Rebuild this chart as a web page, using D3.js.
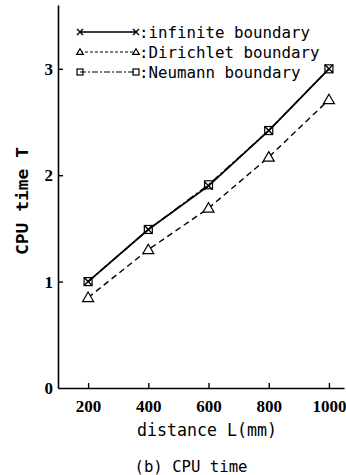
<!DOCTYPE html>
<html>
<head>
<meta charset="utf-8">
<script src="https://cdn.jsdelivr.net/npm/d3@7"></script>
<style>
  body { margin: 0; background: #fff; }
  svg { display: block; }
</style>
</head>
<body>
<div id="chart"></div>
<script>
// data
const distances = [200, 400, 600, 800, 1000];
const infiniteTimes = [1.00, 1.49, 1.90, 2.42, 3.00];
const dirichletTimes = [0.85, 1.30, 1.69, 2.17, 2.71];
const neumannTimes = [1.00, 1.49, 1.91, 2.42, 3.00];
const xTicks = [200, 400, 600, 800, 1000];
const yTicks = [0, 1, 2, 3];

const width = 346, height = 475;
const margin = { top: 5, right: 2, bottom: 87, left: 58 };

const svg = d3.select('#chart').append('svg')
  .attr('width', width)
  .attr('height', height);

const x = d3.scaleLinear().domain([100, 1050]).range([margin.left, width - margin.right]);
const y = d3.scaleLinear().domain([0, 3.6]).range([height - margin.bottom, margin.top]);

const numFont = '"Liberation Serif", "DejaVu Serif Condensed", "DejaVu Serif", serif';
const monoFont = '"DejaVu Sans Mono", "Liberation Mono", monospace';

// axes, ticks pointing inward
const xAxis = svg.append('g')
  .attr('transform', `translate(0,${y(0)})`)
  .call(d3.axisBottom(x).tickValues(xTicks).tickSizeInner(-5).tickSizeOuter(0).tickPadding(12).tickFormat(d3.format('d')));
const yAxis = svg.append('g')
  .attr('transform', `translate(${x(100)},0)`)
  .call(d3.axisLeft(y).tickValues(yTicks).tickSizeInner(-5).tickSizeOuter(0).tickPadding(5).tickFormat(d3.format('d')));

[xAxis, yAxis].forEach(g => {
  g.attr('font-family', null);
  g.select('.domain').attr('stroke', '#000').attr('stroke-width', 1.6);
  g.selectAll('.tick line').attr('stroke', '#000').attr('stroke-width', 1.4);
  g.selectAll('.tick text')
    .attr('fill', '#000')
    .attr('font-family', numFont)
    .attr('font-weight', 'bold')
    .attr('font-size', 17);
});
yAxis.selectAll('.tick').filter(d => d === 0).select('line').remove();

// series
const series = [
  { name: 'infinite boundary', values: infiniteTimes, dash: null, marker: 'cross' },
  { name: 'Dirichlet boundary', values: dirichletTimes, dash: '6,4', marker: 'triangle' },
  { name: 'Neumann boundary', values: neumannTimes, dash: '8,3,2,3', marker: 'square' }
];

const line = d3.line().x(d => x(d[0])).y(d => y(d[1]));

function drawMarker(g, type, cx, cy, s) {
  if (type === 'cross') {
    g.append('path')
      .attr('d', `M${cx - s},${cy - s}L${cx + s},${cy + s}M${cx - s},${cy + s}L${cx + s},${cy - s}`)
      .attr('stroke', '#000').attr('stroke-width', 1.4).attr('fill', 'none');
  } else if (type === 'triangle') {
    g.append('path')
      .attr('d', `M${cx},${cy - s * 1.1}L${cx + s * 1.1},${cy + s * 0.8}L${cx - s * 1.1},${cy + s * 0.8}Z`)
      .attr('stroke', '#000').attr('stroke-width', 1.2).attr('fill', '#fff');
  } else {
    g.append('rect')
      .attr('x', cx - s).attr('y', cy - s).attr('width', 2 * s).attr('height', 2 * s)
      .attr('stroke', '#000').attr('stroke-width', 1.2).attr('fill', 'none');
  }
}

const plot = svg.append('g');
series.forEach(s => {
  const pts = distances.map((d, i) => [d, s.values[i]]);
  plot.append('path')
    .attr('d', line(pts))
    .attr('fill', 'none')
    .attr('stroke', '#000')
    .attr('stroke-width', s.dash ? 1.4 : 1.8)
    .attr('stroke-dasharray', s.dash);
});
series.forEach(s => {
  const g = plot.append('g');
  distances.forEach((d, i) => {
    drawMarker(g, s.marker, x(d), y(s.values[i]), s.marker === 'triangle' ? 5 : 4);
  });
});

// legend
const legend = svg.append('g');
const legendY = [32, 52, 72];
series.forEach((s, i) => {
  const ly = legendY[i];
  legend.append('line')
    .attr('x1', 80).attr('x2', 136).attr('y1', ly).attr('y2', ly)
    .attr('stroke', '#000').attr('stroke-width', s.dash ? 1.2 : 1.6)
    .attr('stroke-dasharray', s.dash ? (i === 1 ? '3,2' : '6,2,2,2') : null);
  const lg = legend.append('g');
  drawMarker(lg, s.marker, 80, ly, 3);
  drawMarker(lg, s.marker, 136, ly, 3);
  legend.append('text')
    .attr('x', 139).attr('y', ly)
    .attr('dy', '0.35em')
    .attr('textLength', (s.name.length + 1) * 9.5)
    .attr('lengthAdjust', 'spacingAndGlyphs')
    .style('font-family', monoFont)
    .style('font-size', '16px')
    .text(':' + s.name);
});

// axis titles
svg.append('text')
  .attr('transform', `translate(22,${201}) rotate(-90)`)
  .attr('text-anchor', 'middle')
  .attr('dy', '0.35em')
  .attr('textLength', 108)
  .attr('lengthAdjust', 'spacingAndGlyphs')
  .style('font-family', monoFont)
  .style('font-weight', 'bold')
  .style('font-size', '16px')
  .text('CPU time T');

svg.append('text')
  .attr('x', 207).attr('y', 430)
  .attr('text-anchor', 'middle')
  .attr('dy', '0.35em')
  .attr('textLength', 140)
  .attr('lengthAdjust', 'spacingAndGlyphs')
  .style('font-family', monoFont)
  .style('font-size', '17px')
  .text('distance L(mm)');

svg.append('text')
  .attr('x', 191).attr('y', 466)
  .attr('text-anchor', 'middle')
  .attr('dy', '0.35em')
  .attr('textLength', 113)
  .attr('lengthAdjust', 'spacingAndGlyphs')
  .style('font-family', monoFont)
  .style('font-size', '16px')
  .text('(b) CPU time');
</script>
</body>
</html>
